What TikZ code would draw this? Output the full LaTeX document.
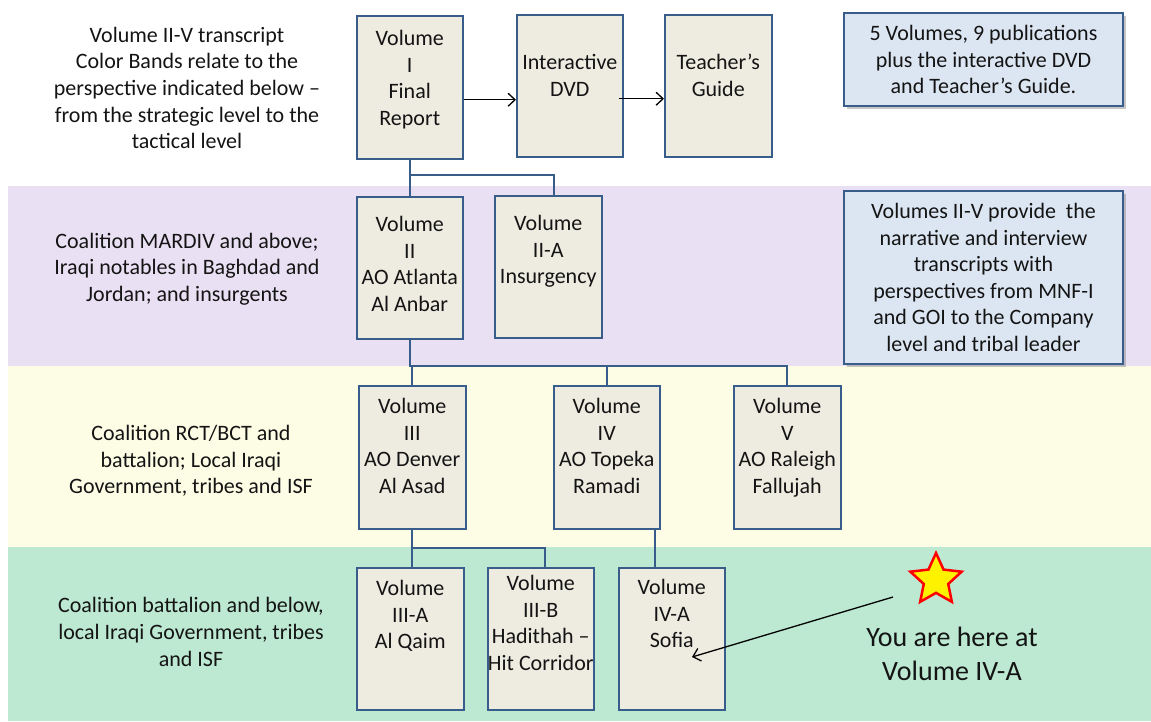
\documentclass[tikz,border=0pt]{standalone}
\usepackage{fontspec}
\setmainfont{Carlito}
\usepackage{xcolor}
\usepackage{tikz}
\usetikzlibrary{arrows.meta,positioning,shapes.geometric,shadows}

\definecolor{bandpurple}{RGB}{234,224,243}
\definecolor{bandyellow}{RGB}{253,253,230}
\definecolor{bandgreen}{RGB}{189,233,210}
\definecolor{boxfill}{RGB}{238,236,225}
\definecolor{boxline}{RGB}{56,93,138}
\definecolor{notefill}{RGB}{220,230,242}
\definecolor{inktext}{RGB}{20,20,20}

\tikzset{
    volbox/.style={draw=boxline, fill=boxfill, line width=1.5pt, minimum width=106pt,
        minimum height=142pt, anchor=north west, inner sep=0pt},
    voltext/.style={align=center, inner sep=0pt, text=inktext,
        font=\fontsize{22}{26.6}\selectfont},
    notebox/.style={draw=boxline, fill=notefill, line width=1.5pt, minimum width=279pt,
        align=center, inner sep=0pt, text=inktext, font=\fontsize{22}{26.6}\selectfont,
        drop shadow={shadow xshift=3pt, shadow yshift=-3pt, fill=black!45}},
    bandtext/.style={align=center, inner sep=0pt, text=inktext,
        font=\fontsize{22}{26.6}\selectfont},
    link/.style={draw=boxline, line width=2pt},
    pointer/.style={-{Straight Barb[length=7pt,width=13pt]}, line width=1.3pt, black}
}

\begin{document}
\begin{tikzpicture}[x=1pt, y=-1pt]
    \useasboundingbox (0,0) rectangle (1151,721);
    \fill[bandpurple] (8,186) rectangle (1151,366);
    \fill[bandyellow] (8,366) rectangle (1151,547);
    \fill[bandgreen] (8,547) rectangle (1151,721);

    \node[bandtext] (intro) at (187,88) {Volume II-V transcript\\Color Bands relate to the\\perspective indicated below --\\from the strategic level to the\\tactical level};
    \node[bandtext] (lvl1) at (187,269) {Coalition MARDIV and above;\\Iraqi notables in Baghdad and\\Jordan; and insurgents};
    \node[bandtext] (lvl2) at (191,461) {Coalition RCT/BCT and\\battalion; Local Iraqi\\Government, tribes and ISF};
    \node[bandtext] (lvl3) at (191,632) {Coalition battalion and below,\\local Iraqi Government, tribes\\and ISF};

    \node[volbox, minimum height=143pt] (v1) at (356,15) {};
    \node[voltext, below=15pt of v1.north] (v1t) {Volume\\I\\Final\\Report};
    \node[volbox] (dvd) at (516,14) {};
    \node[voltext, below=40pt of dvd.north] (dvdt) {Interactive\\DVD};
    \node[volbox, minimum width=107pt] (tg) at (664,14) {};
    \node[voltext, below=40pt of tg.north] (tgt) {Teacher’s\\Guide};

    \node[volbox] (v2) at (356,196) {};
    \node[voltext, below=20pt of v2.north] (v2t) {Volume\\II\\AO Atlanta\\Al Anbar};
    \node[volbox, minimum width=107pt] (v2a) at (494,195) {};
    \node[voltext, below=20pt of v2a.north] (v2at) {Volume\\II-A\\Insurgency};

    \node[volbox, minimum width=107pt, minimum height=143pt] (v3) at (358,385) {};
    \node[voltext, below=13pt of v3.north] (v3t) {Volume\\III\\AO Denver\\Al Asad};
    \node[volbox, minimum height=143pt] (v4) at (553,385) {};
    \node[voltext, below=13pt of v4.north] (v4t) {Volume\\IV\\AO Topeka\\Ramadi};
    \node[volbox, minimum width=107pt, minimum height=143pt] (v5) at (733,385) {};
    \node[voltext, below=13pt of v5.north] (v5t) {Volume\\V\\AO Raleigh\\Fallujah};

    \node[volbox, minimum width=107pt] (v3a) at (356,567) {};
    \node[voltext, below=13pt of v3a.north] (v3at) {Volume\\III-A\\Al Qaim};
    \node[volbox] (v3b) at (487,567) {};
    \node[voltext, below=8pt of v3b.north] (v3bt) {Volume\\III-B\\Hadithah --\\Hit Corridor};
    \node[volbox] (v4a) at (618,567) {};
    \node[voltext, below=12pt of v4a.north] (v4at) {Volume\\IV-A\\Sofia};

    \node[notebox, minimum height=93pt] (note1) at (983.5,59.5) {5 Volumes, 9 publications\\plus the interactive DVD\\and Teacher’s Guide.};
    \node[notebox, minimum height=173pt] (note2) at (983.5,277.5) {Volumes II-V provide\ \ the\\narrative and interview\\transcripts with\\perspectives from MNF-I\\and GOI to the Company\\level and tribal leader};

    \node[star, star points=5, star point ratio=2.1, minimum size=54pt, inner sep=0pt,
        fill=yellow, draw=red, line width=2.5pt] (star) at (936,580) {};
    \node[align=center, inner sep=0pt, text=inktext, font=\fontsize{28}{34}\selectfont] (here) at (952,654) {You are here at\\Volume IV-A};

    \coordinate (busA) at (409,175);
    \coordinate (busB) at (411,366);
    \coordinate (busC) at (410,548);
    \coordinate (tail) at (893,597);
    \coordinate (tip) at (692,657);

    \draw[link] (v1.south) -- (v2.north);
    \draw[link] (busA) -| ([xshift=6pt]v2a.north);
    \draw[link] (v2.south) -- (v2.south |- busB) -| (v5.north);
    \draw[link] (v3.north) -- (v3.north |- busB);
    \draw[link] (v4.north) -- (v4.north |- busB);
    \draw[link] (v3.south) -- (v3.south |- v3a.north);
    \draw[link] (v3.south |- busC) -| ([xshift=4pt]v3b.north);
    \draw[link] ([xshift=-6pt]v4.south east) -- ([xshift=-6pt]v4.south east |- v4a.north);

    \draw[pointer] ([yshift=-12.5pt]v1.east) -- ([yshift=-12.5pt]v1.east -| dvd.west);
    \draw[pointer] ([xshift=-5pt,yshift=-13pt]dvd.east) -- ([yshift=-13pt]dvd.east -| tg.west);
    \draw[pointer] (tail) -- (tip);
\end{tikzpicture}
\end{document}
